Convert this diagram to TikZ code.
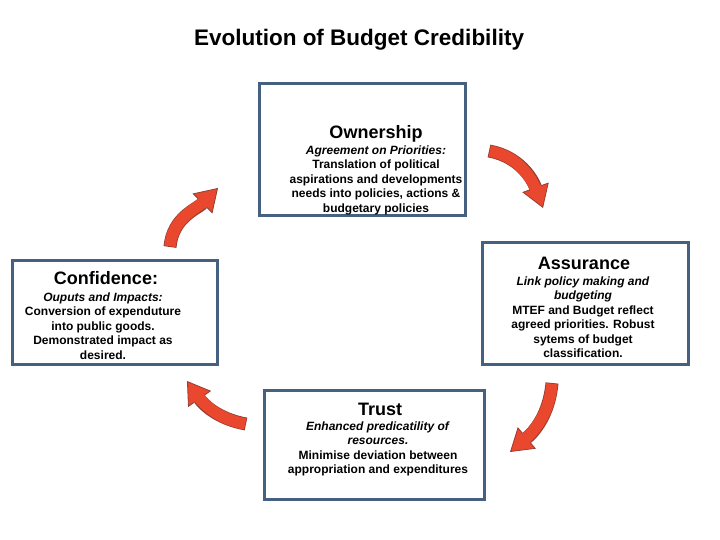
\documentclass[tikz,border=0pt]{standalone}
\usepackage{fontspec}
\setmainfont{Liberation Sans}
\usepackage{tikz}
\usetikzlibrary{arrows.meta}

\definecolor{boxblue}{RGB}{70,96,128}
\definecolor{arrowred}{RGB}{234,72,46}
\definecolor{arrowedge}{RGB}{150,62,48}

\tikzset{
	stage/.style={draw=boxblue, line width=3pt, fill=white, inner sep=0pt},
	stagehead/.style={font=\bfseries\fontsize{18}{20}\selectfont, inner sep=0pt},
	stagetext/.style={align=center, font=\bfseries\fontsize{12}{14.5}\selectfont, inner sep=0pt},
	turnarrow/.style={draw=arrowedge, line width=13pt,
		-{Triangle[width=28pt,length=22pt,fill=arrowred,line width=0.8pt]},
		postaction={draw=arrowred, line width=11.4pt, arrows=-, shorten >=14pt, shorten <=0.8pt}}
}

\begin{document}
\begin{tikzpicture}[x=1pt,y=1pt]
	
	\useasboundingbox (0,0) rectangle (720,540);
	
	\node[font=\bfseries\fontsize{22.5}{26}\selectfont] (title) at (359,500) {Evolution of Budget Credibility};
	
	\node[stage, minimum width=206pt, minimum height=132pt] (own) at (362.5,390.5) {};
	\node[stage, minimum width=206pt, minimum height=122pt] (assur) at (585.5,236.5) {};
	\node[stage, minimum width=205pt, minimum height=104pt] (conf) at (115,227.5) {};
	\node[stage, minimum width=220pt, minimum height=109pt] (trust) at (374.5,95) {};
	
	\node[stagehead] (ownhead) at (376,406) {Ownership};
	\node[stagetext] (owntext) at (376,360) {\textit{Agreement on Priorities:}\\Translation of political\\aspirations and developments\\needs into policies, actions \&\\budgetary policies};
	
	\node[stagehead] (assurhead) at (584,277) {Assurance};
	\node[stagetext] (assurtext) at (583,223) {\textit{Link policy making and}\\\textit{budgeting}\\MTEF and Budget reflect\\agreed priorities. Robust\\sytems of budget\\classification.};
	
	\node[stagehead] (confhead) at (106,262) {Confidence:};
	\node[stagetext] (conftext) at (103,214) {\textit{Ouputs and Impacts:}\\Conversion of expenduture\\into public goods.\\Demonstrated impact as\\desired.};
	
	\node[stagehead] (trusthead) at (380,131) {Trust};
	\node[stagetext] (trusttext) at (378,91) {\textit{Enhanced predicatility of}\\\textit{resources.}\\Minimise deviation between\\appropriation and expenditures};
	
	\coordinate (c1) at (170,293);
	\coordinate (o1) at (218,352);
	\coordinate (o2) at (489,389);
	\coordinate (a1) at (543,332);
	\coordinate (a2) at (552,157);
	\coordinate (t1) at (510,88);
	\coordinate (t2) at (246,116);
	\coordinate (c2) at (187,159);
	
	\draw[turnarrow] (c1) to[out=85, in=225] (o1);
	\draw[turnarrow] (o2) to[out=-10, in=110] (a1);
	\draw[turnarrow] (a2) to[out=-95, in=40] (t1);
	\draw[turnarrow] (t2) to[out=170, in=-55] (c2);
	
\end{tikzpicture}
\end{document}
